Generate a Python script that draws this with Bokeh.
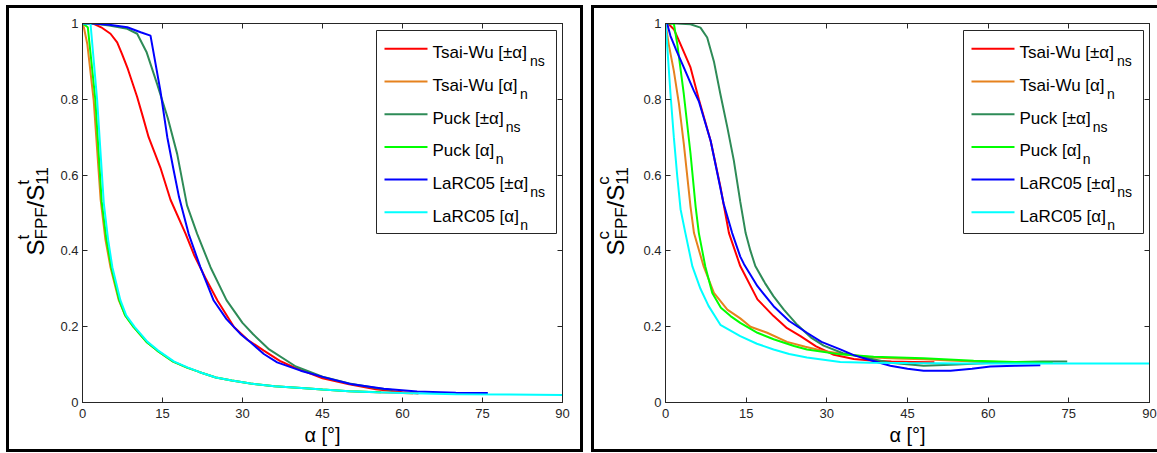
import math
from bokeh.plotting import figure
from bokeh.layouts import row, column
from bokeh.models import (FixedTicker, LinearAxis, NumeralTickFormatter, Label,
                          BoxAnnotation, PolyAnnotation, Range1d, Spacer)
from bokeh.embed import file_html
from bokeh.resources import INLINE

# ---------------- data ----------------
X_TICKS = [0, 15, 30, 45, 60, 75, 90]
Y_TICKS = [0, 0.2, 0.4, 0.6, 0.8, 1.0]

NAMES = ["Tsai-Wu [±α]", "Tsai-Wu [α]", "Puck [±α]", "Puck [α]", "LaRC05 [±α]", "LaRC05 [α]"]
SUBS = ["ns", "n", "ns", "n", "ns", "n"]
COLORS = ["#FF0000", "#E6821E", "#2E8B57", "#00FF00", "#0000FF", "#00FFFF"]

# Tension panel (S^t_FPF / S^t_11)
t_tw_pm_a = [0, 2, 3.5, 5.25, 6.5, 7.4, 8.5, 10.25, 11.3, 12.4, 13.5, 14.6, 16.5, 19.3, 20.9, 23, 25.3,
             28.4, 31, 34, 37, 39.6, 42, 45, 50, 55, 60, 63]
t_tw_pm_v = [1, 1, 0.99, 0.973, 0.95, 0.92, 0.88, 0.806, 0.755, 0.70, 0.66, 0.62, 0.535, 0.446, 0.39,
             0.33, 0.269, 0.199, 0.165, 0.137, 0.11, 0.093, 0.08, 0.064, 0.048, 0.035, 0.027, 0.024]
t_tw_n_a = [0, 0.25, 0.9, 2.1, 3.4, 4.3, 5.25, 6.8, 8, 9.6, 12, 14, 17, 19.6, 22, 25, 28, 31.5, 36, 41,
            45, 50, 55, 60, 62]
t_tw_n_v = [1, 0.99, 0.946, 0.797, 0.535, 0.43, 0.357, 0.27, 0.23, 0.199, 0.16, 0.137, 0.108, 0.092, 0.08,
            0.066, 0.058, 0.05, 0.043, 0.038, 0.034, 0.03, 0.027, 0.025, 0.024]
t_pk_pm_a = [0, 2, 5, 8.4, 10.25, 12, 14, 16, 17.75, 19.6, 21.5, 24, 27, 30, 32, 35, 40, 45, 50, 55, 58]
t_pk_pm_v = [1, 1, 0.995, 0.986, 0.973, 0.925, 0.84, 0.75, 0.656, 0.52, 0.445, 0.357, 0.27, 0.21, 0.18,
             0.14, 0.095, 0.068, 0.05, 0.038, 0.033]
t_pk_n_a = [0, 1.0, 2.4, 3.6, 4.5, 5.4, 6.9, 8, 9.6, 12, 14, 17, 19.6, 22, 25, 28, 31.5, 36, 41, 45, 50, 56]
t_pk_n_v = [1, 0.99, 0.8, 0.53, 0.43, 0.357, 0.27, 0.23, 0.199, 0.16, 0.137, 0.108, 0.092, 0.08, 0.066,
            0.058, 0.05, 0.043, 0.038, 0.034, 0.03, 0.027]
t_lc_pm_a = [0, 2, 5, 8.4, 10.9, 12.75, 14.6, 15.9, 17.1, 18.1, 19.9, 22.1, 24.6, 27, 29.6, 31.5, 34,
             36.5, 40.9, 45.2, 50.25, 56.5, 62.75, 70, 76]
t_lc_pm_v = [1, 1, 0.997, 0.99, 0.977, 0.968, 0.823, 0.70, 0.612, 0.542, 0.445, 0.357, 0.269, 0.22, 0.181,
             0.159, 0.128, 0.106, 0.084, 0.067, 0.049, 0.036, 0.029, 0.026, 0.025]
t_lc_n_a = [0, 1.5, 2.75, 4, 4.8, 5.6, 7.1, 8.2, 9.8, 12.2, 14.2, 17.2, 19.8, 22, 25, 28, 31.5, 36, 41,
            45, 50, 55, 60, 70, 80, 90]
t_lc_n_v = [1, 1, 0.797, 0.525, 0.43, 0.357, 0.27, 0.23, 0.199, 0.16, 0.137, 0.108, 0.092, 0.08, 0.066,
            0.058, 0.05, 0.043, 0.038, 0.034, 0.03, 0.027, 0.025, 0.022, 0.021, 0.02]

# Compression panel (S^c_FPF / S^c_11)
c_tw_pm_a = [0, 0.6, 1.55, 2.8, 4.65, 6.2, 8.4, 10.2, 11.8, 13.9, 17.1, 20.1, 22.6, 25.1, 28, 31.3, 35,
             38.7, 42, 46, 50]
c_tw_pm_v = [1, 0.998, 0.985, 0.945, 0.884, 0.80, 0.69, 0.57, 0.447, 0.36, 0.272, 0.228, 0.196, 0.175,
             0.148, 0.126, 0.115, 0.11, 0.108, 0.107, 0.106]
c_tw_n_a = [0, 0.6, 1.55, 2.5, 3.4, 4.65, 5.3, 7.1, 9, 11.5, 13.9, 15.8, 18.9, 22.6, 26, 29.4, 34, 38.7,
            43, 48, 53, 57.3, 62, 66]
c_tw_n_v = [1, 0.945, 0.875, 0.788, 0.683, 0.517, 0.447, 0.359, 0.289, 0.245, 0.222, 0.2, 0.184, 0.16,
            0.147, 0.136, 0.126, 0.119, 0.116, 0.114, 0.111, 0.108, 0.107, 0.107]
c_pk_pm_a = [0, 2, 4.65, 6.5, 7.75, 9, 10.2, 11.5, 12.7, 13.9, 14.9, 15.8, 16.7, 18.5, 20.1, 22, 24.5,
             27, 29.4, 33, 35.6, 41.8, 48, 54.2, 60, 64.7, 70, 74.7]
c_pk_pm_v = [1, 1, 0.998, 0.989, 0.963, 0.90, 0.814, 0.726, 0.639, 0.53, 0.447, 0.40, 0.36, 0.315, 0.28,
             0.245, 0.205, 0.172, 0.15, 0.13, 0.123, 0.105, 0.097, 0.1, 0.104, 0.107, 0.108, 0.108]
c_pk_n_a = [0, 1.55, 2.2, 3.4, 4.65, 5.6, 6.2, 7.4, 8.7, 10.3, 12.1, 13.9, 17.1, 20.1, 23.9, 26.3, 32.5,
            38.7, 48, 57.3, 65, 72]
c_pk_n_v = [1, 1, 0.945, 0.814, 0.657, 0.517, 0.447, 0.359, 0.289, 0.25, 0.228, 0.21, 0.184, 0.167,
            0.149, 0.14, 0.127, 0.121, 0.117, 0.11, 0.107, 0.105]
c_lc_pm_a = [0, 0.3, 0.93, 2, 3.4, 5.26, 6.2, 8.4, 10.8, 12.4, 13.9, 14.6, 17.1, 20.1, 23, 26.3, 29, 32.5,
             35, 37.5, 41.8, 45, 48, 53, 57, 60.4, 65, 69.7]
c_lc_pm_v = [1, 1, 0.967, 0.93, 0.884, 0.823, 0.795, 0.69, 0.525, 0.447, 0.385, 0.365, 0.307, 0.254,
             0.215, 0.184, 0.16, 0.14, 0.125, 0.114, 0.097, 0.089, 0.084, 0.084, 0.089, 0.095, 0.097, 0.098]
c_lc_n_a = [0, 0.3, 0.93, 1.55, 2.2, 2.8, 3.7, 5.0, 6.5, 8.0, 10.2, 13.9, 17, 20.1, 23, 26.3, 32.5, 38,
            45, 55, 65, 75, 90]
c_lc_n_v = [1, 0.945, 0.814, 0.7, 0.595, 0.51, 0.447, 0.359, 0.3, 0.255, 0.205, 0.175, 0.155, 0.14, 0.128,
            0.119, 0.107, 0.105, 0.104, 0.103, 0.103, 0.103, 0.103]

TENSION = [(t_tw_pm_a, t_tw_pm_v), (t_tw_n_a, t_tw_n_v), (t_pk_pm_a, t_pk_pm_v),
           (t_pk_n_a, t_pk_n_v), (t_lc_pm_a, t_lc_pm_v), (t_lc_n_a, t_lc_n_v)]
COMPRESSION = [(c_tw_pm_a, c_tw_pm_v), (c_tw_n_a, c_tw_n_v), (c_pk_pm_a, c_pk_pm_v),
               (c_pk_n_a, c_pk_n_v), (c_lc_pm_a, c_lc_pm_v), (c_lc_n_a, c_lc_n_v)]

# ---------------- styling ----------------
FONT = "Liberation Sans"
AX_COLOR = "#262626"
TICK_COLOR = "#262626"
FIG_H = 441
# Arial advance widths (1/1000 em)
AW = {'S': 667, 'F': 611, 'P': 667, '/': 278, 't': 278, 'c': 500, '1': 556,
      'T': 611, 's': 500, 'a': 556, 'i': 222, '-': 333, 'W': 944, 'u': 556, ' ': 278,
      '[': 278, ']': 278, '±': 584, 'α': 578, 'k': 500, 'L': 556, 'R': 722, 'C': 722,
      '0': 556, '5': 556}
KERN = {'Ts': -74}


def tw(s, size):
    w = sum(AW.get(c, 556) for c in s)
    w += sum(KERN.get(s[i:i + 2], 0) for i in range(len(s) - 1))
    return w / 1000.0 * size


def bar(w, h):
    return Spacer(width=w, height=h, styles={"background-color": "black"})


def style_axis(ax, ticks, show):
    ax.ticker = FixedTicker(ticks=ticks)
    ax.major_tick_in = 5
    ax.major_tick_out = 0
    ax.minor_tick_line_color = None
    ax.axis_line_color = AX_COLOR
    ax.major_tick_line_color = AX_COLOR
    ax.major_label_text_font = FONT
    if show:
        ax.major_label_text_font_size = "13px"
        ax.major_label_text_color = TICK_COLOR
    else:
        ax.major_label_text_font_size = "1px"
        ax.major_label_text_color = None
        ax.major_label_standoff = 0


def lbl(p, x, y, text, size, angle=0.0, align="left"):
    p.add_layout(Label(x=x, y=y, x_units="screen", y_units="screen", text=text,
                       text_font=FONT, text_font_size=f"{size}px", text_color="black",
                       angle=angle, text_align=align, text_baseline="alphabetic"))


def make_ylabel(width, xb, sup):
    q = figure(width=width, height=FIG_H, x_range=Range1d(0, width), y_range=Range1d(0, FIG_H),
               x_axis_type=None, y_axis_type=None, output_backend="svg", toolbar_location=None,
               min_border=0, min_border_left=0, min_border_right=0, min_border_top=0,
               min_border_bottom=0, outline_line_color=None,
               background_fill_color="white", border_fill_color="white")
    q.grid.visible = False
    F, f = 24, 17
    u = 147
    rot = math.pi / 2
    lbl(q, xb, u, "S", F, rot)
    u += tw("S", F)
    lbl(q, xb - 12, u, sup, f, rot)
    lbl(q, xb + 6, u, "FPF", f, rot)
    u += tw("FPF", f)
    lbl(q, xb, u, "/S", F, rot)
    u += tw("/S", F)
    lbl(q, xb - 12, u, sup, f, rot)
    lbl(q, xb + 6, u, "11", f, rot)
    return q


def make_panel(data, width, mbr):
    p = figure(width=width, height=FIG_H, x_range=Range1d(0, 90), y_range=Range1d(0, 1),
               output_backend="svg", toolbar_location=None,
               min_border_left=28, min_border_right=mbr, min_border_top=15, min_border_bottom=47,
               background_fill_color="white", border_fill_color="white",
               outline_line_color=AX_COLOR, outline_line_width=1)
    p.xgrid.visible = False
    p.ygrid.visible = False
    style_axis(p.xaxis[0], X_TICKS, True)
    p.xaxis[0].major_label_standoff = 6
    p.xaxis[0].axis_label = "α [°]"
    p.xaxis[0].axis_label_text_font = FONT
    p.xaxis[0].axis_label_text_font_size = "20px"
    p.xaxis[0].axis_label_text_font_style = "normal"
    p.xaxis[0].axis_label_text_color = "black"
    p.xaxis[0].axis_label_standoff = 3
    style_axis(p.yaxis[0], Y_TICKS, True)
    p.yaxis[0].major_label_standoff = 4
    p.yaxis[0].formatter = NumeralTickFormatter(format="0.[0]")
    top = LinearAxis()
    style_axis(top, X_TICKS, False)
    p.add_layout(top, "above")
    right = LinearAxis()
    style_axis(right, Y_TICKS, False)
    p.add_layout(right, "right")

    for (a, v), col in zip(data, COLORS):
        p.line(a, v, line_color=col, line_width=2)

    # legend (positions relative to the plot frame)
    fw = width - 28 - mbr
    fh = FIG_H - 15 - 47
    p.add_layout(BoxAnnotation(left=fw - 186, right=fw - 6, top=fh - 7, bottom=fh - 210,
                               left_units="screen", right_units="screen",
                               top_units="screen", bottom_units="screen",
                               fill_color="white", fill_alpha=1.0,
                               line_color=AX_COLOR, line_alpha=1.0, line_width=1))
    for k, (name, sub, col) in enumerate(zip(NAMES, SUBS, COLORS)):
        yk = fh - 25.3 - 32.7 * k
        p.add_layout(PolyAnnotation(xs=[fw - 178, fw - 135], ys=[yk, yk],
                                    xs_units="screen", ys_units="screen",
                                    line_color=col, line_alpha=1.0, line_width=2, fill_alpha=0))
        tx = fw - 130
        lbl(p, tx, yk - 4, name, 17)
        lbl(p, tx + tw(name, 17) + 1.5, yk - 12.4, sub, 14)
    return p


q1 = make_ylabel(45, 26, "t")
p1 = make_panel(TENSION, 526, 18)
q2 = make_ylabel(43, 21, "c")
p2 = make_panel(COMPRESSION, 520, 8)

W1 = 3 + 45 + 526 + 3
W2 = 3 + 43 + 520
panel1 = column(bar(W1, 3), row(bar(3, FIG_H), q1, p1, bar(3, FIG_H)), bar(W1, 3))
panel2 = column(bar(W2, 3), row(bar(3, FIG_H), q2, p2), bar(W2, 3))

layout = column(Spacer(width=10, height=5),
                row(Spacer(width=6, height=10), panel1, Spacer(width=8, height=10), panel2))

open("out.html", "w").write(file_html(layout, INLINE))
